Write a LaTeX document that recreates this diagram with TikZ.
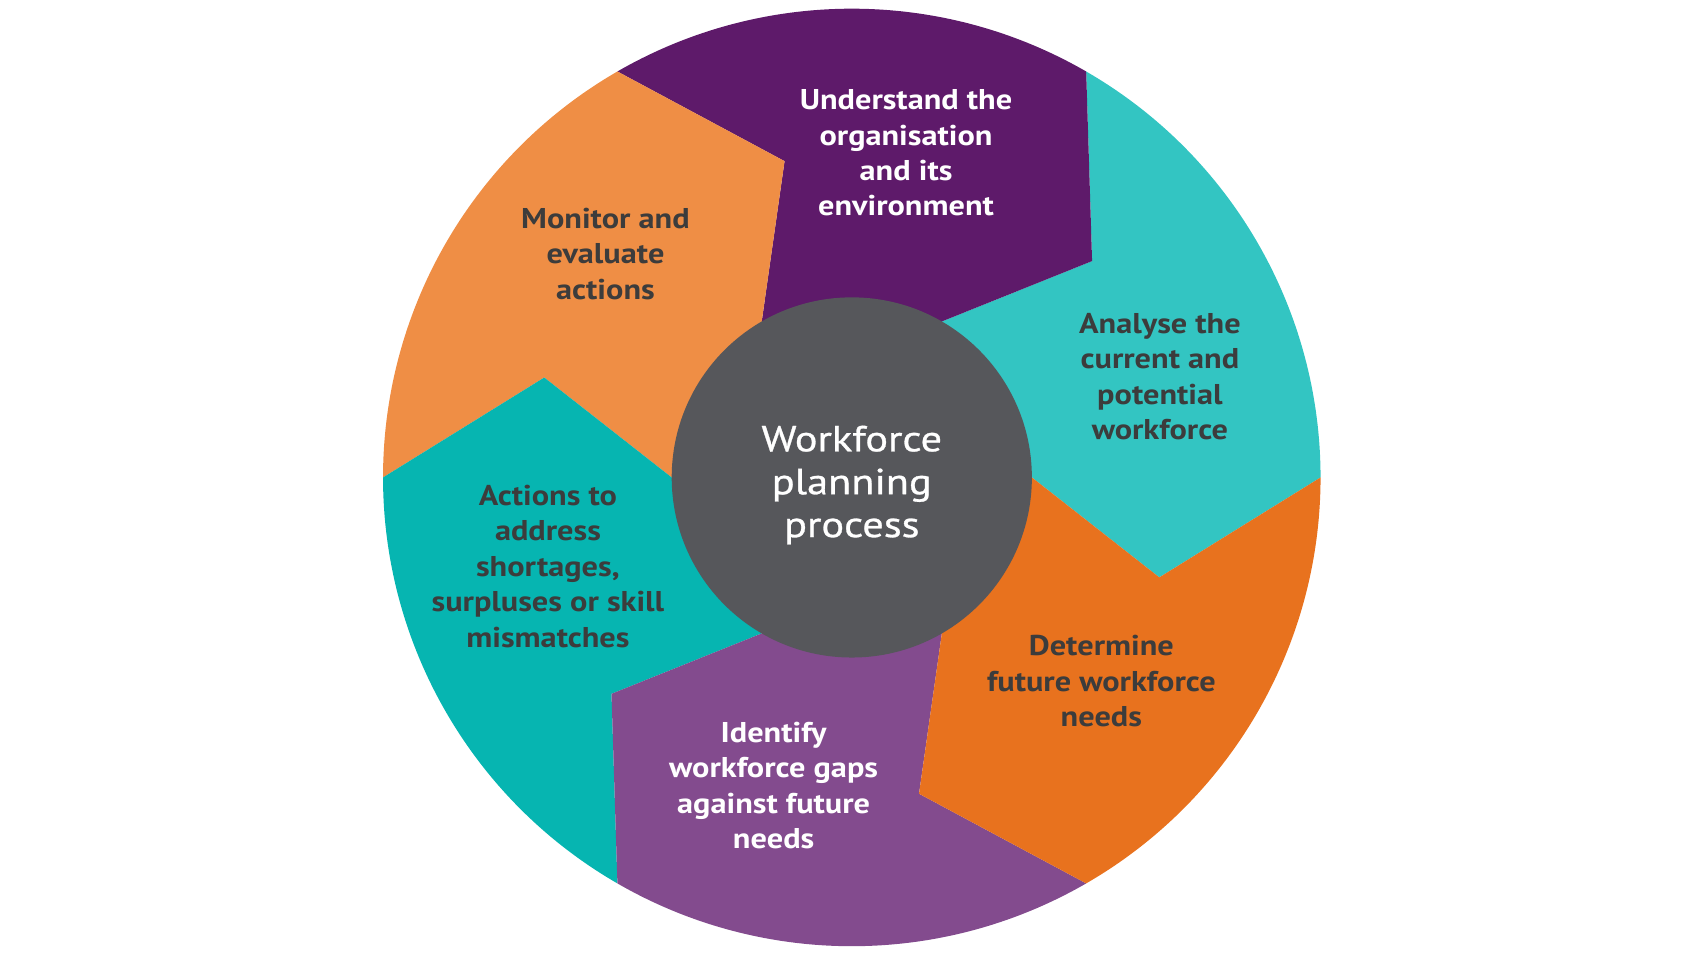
\documentclass[tikz,border=0pt]{standalone}
\usepackage{fontspec}
\setmainfont{PT Sans}[FakeStretch=1.13]
\newfontfamily\hubfont{PT Sans}[FakeStretch=1.17,FakeBold=0.8]
\definecolor{aqua}{HTML}{33C5C2}
\definecolor{plum}{HTML}{5E1A6A}
\definecolor{peach}{HTML}{EF8E45}
\definecolor{teal2}{HTML}{06B5B1}
\definecolor{mauve}{HTML}{834B8E}
\definecolor{amber}{HTML}{E8721E}
\definecolor{hubgrey}{HTML}{56575B}
\definecolor{ink}{HTML}{3C3C3C}
\tikzset{
  lbl/.style={align=center,text=ink,font=\bfseries\fontsize{15}{18.6}\selectfont},
  hub/.style={circle,fill=hubgrey,inner sep=0pt,minimum size=6.64cm},
}
\begin{document}
\begin{tikzpicture}[x=0.02cm,y=0.02cm]
        \useasboundingbox(-785,-440)rectangle(778,440);
        \fill[aqua](0,0)--(0:166)--(-18:298)--(0:432)arc[start angle=0,end angle=60,radius=432]--(42:298)--(60:166)--cycle;
        \fill[plum](0,0)--(60:166)--(42:298)--(60:432)arc[start angle=60,end angle=120,radius=432]--(102:298)--(120:166)--cycle;
        \fill[peach](0,0)--(120:166)--(102:298)--(120:432)arc[start angle=120,end angle=180,radius=432]--(162:298)--(180:166)--cycle;
        \fill[teal2](0,0)--(180:166)--(162:298)--(180:432)arc[start angle=180,end angle=240,radius=432]--(222:298)--(240:166)--cycle;
        \fill[mauve](0,0)--(240:166)--(222:298)--(240:432)arc[start angle=240,end angle=300,radius=432]--(282:298)--(300:166)--cycle;
        \fill[amber](0,0)--(300:166)--(282:298)--(300:432)arc[start angle=300,end angle=360,radius=432]--(342:298)--(360:166)--cycle;
        \node(hub)[hub]at(0,0){};
        \node(title)[align=center,text=white,font=\hubfont\fontsize{19}{22.5}\selectfont]at(0,-7){Workforce\\planning\\process};
        \node(understand)[lbl,text=white]at(50,299){Understand the\\organisation\\and its\\environment};
        \node(monitor)[lbl]at(-227,206){Monitor and\\evaluate\\actions};
        \node(analyse)[lbl]at(284,93){Analyse the\\current and\\potential\\workforce};
        \node(actions)[lbl]at(-280,-82){Actions to\\address\\shortages,\\surpluses or skill\\mismatches};
        \node(determine)[lbl]at(230,-188){Determine\\future workforce\\needs};
        \node(identify)[lbl,text=white]at(-72,-284){Identify\\workforce gaps\\against future\\needs};
    \end{tikzpicture}
\end{document}
